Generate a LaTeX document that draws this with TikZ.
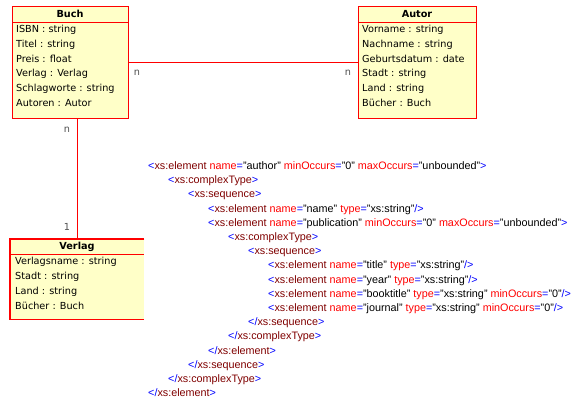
\documentclass[tikz,border=0pt]{standalone}
\usepackage{fontspec}
\setmainfont{Liberation Sans}
\newfontfamily\dvs{DejaVu Sans}
\definecolor{boxfill}{RGB}{255,255,200}
\definecolor{boxred}{RGB}{255,0,0}
\definecolor{xblue}{RGB}{0,0,255}
\definecolor{xdred}{RGB}{128,0,0}
\definecolor{xred}{RGB}{255,0,0}
\definecolor{lblgray}{RGB}{80,80,80}
\newcommand\xo[1]{\textcolor{xblue}{<}\textcolor{xdred}{#1}}
\newcommand\xa[2]{\textcolor{xred}{#1}\textcolor{xblue}{=}"#2"}
\newcommand\xc{\textcolor{xblue}{>}}
\newcommand\xsc{\textcolor{xblue}{/>}}
\newcommand\xe[1]{\textcolor{xblue}{</}\textcolor{xdred}{#1}\textcolor{xblue}{>}}
\begin{document}
\begin{tikzpicture}[x=1pt,y=-1pt,
 classbox/.style={fill=boxfill, draw=boxred, line width=1.4pt, anchor=north west, inner sep=0pt},
 ctitle/.style={font=\dvs\bfseries\fontsize{9.7}{12}\selectfont, anchor=base, inner sep=0pt},
 attr/.style={font=\dvs\fontsize{9.7}{12}\selectfont, anchor=base west, inner sep=0pt},
 sep/.style={draw=boxred, line width=0.9pt},
 assoc/.style={draw=boxred, line width=0.9pt},
 mult/.style={font=\dvs\fontsize{9.7}{12}\selectfont, text=lblgray, anchor=base, inner sep=0pt},
 xml/.style={font=\fontsize{10.8}{13}\selectfont, anchor=base west, inner sep=0pt}]
\useasboundingbox[fill=white] (0,0) rectangle (572,399);

% class boxes
\node[classbox, minimum width=116pt, minimum height=112pt] (buch) at (12,6) {};
\node[classbox, minimum width=118pt, minimum height=112pt] (autor) at (358,6) {};
\node[fill=boxfill, anchor=north west, inner sep=0pt, minimum width=134pt, minimum height=80pt] (verlag) at (10,239) {};
\draw[line width=1.4pt, boxred] (verlag.north east) -- (verlag.north west) -- (verlag.south west) -- (verlag.south east);

% separators
\draw[sep] (buch.west |- 0,22) -- (buch.east |- 0,22);
\draw[sep] (autor.west |- 0,22) -- (autor.east |- 0,22);
\draw[sep] (verlag.west |- 0,254) -- (verlag.east |- 0,254);

% titles
\node[ctitle] (buchT) at (70,17.5) {Buch};
\node[ctitle] (autorT) at (417,17.5) {Autor};
\node[ctitle] (verlagT) at (77,249.5) {Verlag};

% Buch attributes
\node[attr] (b1) at (16,32.5) {ISBN : string};
\node[attr] (b2) at (16,47.25) {Titel : string};
\node[attr] (b3) at (16,62) {Preis : float};
\node[attr] (b4) at (16,76.75) {Verlag : Verlag};
\node[attr] (b5) at (16,91.5) {Schlagworte : string};
\node[attr] (b6) at (16,106.25) {Autoren : Autor};

% Autor attributes
\node[attr] (a1) at (362,32.5) {Vorname : string};
\node[attr] (a2) at (362,47.25) {Nachname : string};
\node[attr] (a3) at (362,62) {Geburtsdatum : date};
\node[attr] (a4) at (362,76.75) {Stadt : string};
\node[attr] (a5) at (362,91.5) {Land : string};
\node[attr] (a6) at (362,106.25) {Bücher : Buch};

% Verlag attributes
\node[attr] (v1) at (15,264.5) {Verlagsname : string};
\node[attr] (v2) at (15,279.4) {Stadt : string};
\node[attr] (v3) at (15,294.3) {Land : string};
\node[attr] (v4) at (15,309.2) {Bücher : Buch};

% associations
\draw[assoc] (buch.east) -- (autor.west);
\draw[assoc] (verlag.north) -- (verlag.north |- buch.south);

% multiplicities
\node[mult] (m1) at (137,75.6) {n};
\node[mult] (m2) at (348,75.6) {n};
\node[mult] (m3) at (67,132.6) {n};
\node[mult] (m4) at (67,230.5) {1};

% XML schema
\node[xml] (x0) at (148,169.5) {\xo{xs:element} \xa{name}{author} \xa{minOccurs}{0} \xa{maxOccurs}{unbounded}\xc};
\node[xml] (x1) at (168,183.7) {\xo{xs:complexType}\xc};
\node[xml] (x2) at (188,197.9) {\xo{xs:sequence}\xc};
\node[xml] (x3) at (208,212.1) {\xo{xs:element} \xa{name}{name} \xa{type}{xs:string}\xsc};
\node[xml] (x4) at (208,226.3) {\xo{xs:element} \xa{name}{publication} \xa{minOccurs}{0} \xa{maxOccurs}{unbounded}\xc};
\node[xml] (x5) at (228,240.4) {\xo{xs:complexType}\xc};
\node[xml] (x6) at (248,254.6) {\xo{xs:sequence}\xc};
\node[xml] (x7) at (268,268.8) {\xo{xs:element} \xa{name}{title} \xa{type}{xs:string}\xsc};
\node[xml] (x8) at (268,283.0) {\xo{xs:element} \xa{name}{year} \xa{type}{xs:string}\xsc};
\node[xml] (x9) at (268,297.2) {\xo{xs:element} \xa{name}{booktitle} \xa{type}{xs:string} \xa{minOccurs}{0}\xsc};
\node[xml] (x10) at (268,311.4) {\xo{xs:element} \xa{name}{journal} \xa{type}{xs:string} \xa{minOccurs}{0}\xsc};
\node[xml] (x11) at (248,325.6) {\xe{xs:sequence}};
\node[xml] (x12) at (228,339.8) {\xe{xs:complexType}};
\node[xml] (x13) at (208,354.0) {\xe{xs:element}};
\node[xml] (x14) at (188,368.2) {\xe{xs:sequence}};
\node[xml] (x15) at (168,382.4) {\xe{xs:complexType}};
\node[xml] (x16) at (148,396.5) {\xe{xs:element}};
\end{tikzpicture}
\end{document}
